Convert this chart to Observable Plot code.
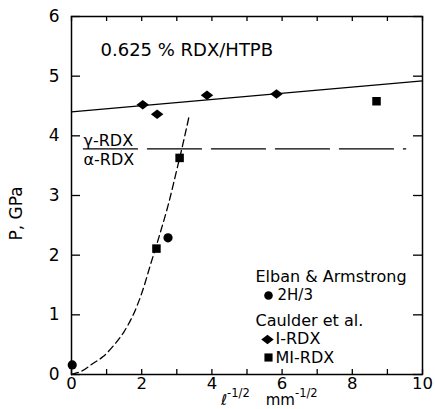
<!DOCTYPE html>
<html><head><meta charset="utf-8">
<script src="https://cdn.jsdelivr.net/npm/d3@7"></script>
<script src="https://cdn.jsdelivr.net/npm/@observablehq/plot@0.6"></script>
<style>
html,body{margin:0;padding:0;background:#fff;}
#chart svg{display:block;}
</style>
</head><body><div id="chart"></div>
<script>
// ---- data ----
const title = "0.625 % RDX/HTPB";
const iRdxX = [2.03, 2.44, 3.86, 5.84];
const iRdxP = [4.52, 4.36, 4.68, 4.70];
const miRdxX = [2.42, 3.08, 8.69];
const miRdxP = [2.11, 3.63, 4.58];
const elbanX = [0.02, 2.75];
const elbanP = [0.16, 2.29];
const fitX = [0, 10];
const fitP = [4.40, 4.92];
const curveX = [0, 0.3, 0.6, 0.9, 1.25, 1.5, 1.75, 2.0, 2.25, 2.5, 2.75, 3.0, 3.15, 3.34];
const curveP = [0, 0.06, 0.18, 0.30, 0.52, 0.72, 0.99, 1.36, 1.84, 2.32, 2.83, 3.43, 3.80, 4.30];
const transitionP = 3.78;
const transitionX = [0.34, 9.52];
const phaseLabels = ["γ-RDX", "α-RDX"];
const xTicks = [0,1,2,3,4,5,6,7,8,9,10];
const xTickLabels = [0,2,4,6,8,10];
const yTicks = [0,1,2,3,4,5,6];
const yLabel = "P, GPa";
const legendGroups = ["Elban & Armstrong", "Caulder et al."];
const seriesNames = ["2H/3", "I-RDX", "MI-RDX"];

const font = "DejaVu Sans";
const W = 435, H = 409, ML = 71, MR = 13, MT = 16, MB = 35;
const frameW = W - ML - MR, frameH = H - MT - MB;
const xTickLen = 5, yTickLen = 9;
const zip = (xs, ys) => xs.map((x, i) => ({x, y: ys[i]}));

const flatDiamond = {
  draw(context, size) {
    const r = Math.sqrt(size / Math.PI);
    const w = r * 1.25, h = r * 0.95;
    context.moveTo(0, -h); context.lineTo(w, 0); context.lineTo(0, h); context.lineTo(-w, 0); context.closePath();
  }
};
const tickStyle = {stroke: "black", strokeWidth: 1.3};

const plot = Plot.plot({
  width: W,
  height: H,
  marginLeft: ML,
  marginRight: MR,
  marginTop: MT,
  marginBottom: MB,
  style: {fontFamily: font, background: "white", color: "black"},
  x: {domain: [0, 10]},
  y: {domain: [0, 6]},
  marks: [
    Plot.frame({stroke: "black", strokeWidth: 1.5}),
    // inward ticks on all four sides
    Plot.ruleX(xTicks, {x: d => d, insetTop: frameH - xTickLen, ...tickStyle}),
    Plot.ruleX(xTicks, {x: d => d, insetBottom: frameH - xTickLen, ...tickStyle}),
    Plot.ruleY(yTicks, {y: d => d, insetRight: frameW - yTickLen, ...tickStyle}),
    Plot.ruleY(yTicks, {y: d => d, insetLeft: frameW - yTickLen, ...tickStyle}),
    // tick labels
    Plot.axisX({anchor: "bottom", ticks: xTickLabels, tickFormat: "d", tickSize: 0, tickPadding: 3, fontSize: 16.5, label: null}),
    Plot.axisY({anchor: "left", ticks: yTicks, tickFormat: "d", tickSize: 0, tickPadding: 12, fontSize: 17, label: null}),
    Plot.text([yLabel], {frameAnchor: "left", dx: -55, dy: 18, rotate: -90, fontSize: 17, textAnchor: "middle", lineAnchor: "middle"}),
    // fitted line
    Plot.line(zip(fitX, fitP), {x: "x", y: "y", stroke: "black", strokeWidth: 1.3}),
    // phase transition line
    Plot.line(transitionX.map(x => ({x, y: transitionP})), {x: "x", y: "y", stroke: "black", strokeWidth: 1.3, strokeDasharray: "54,10"}),
    // dashed curve
    Plot.line(zip(curveX, curveP), {x: "x", y: "y", curve: "catmull-rom", stroke: "black", strokeWidth: 1.3, strokeDasharray: "7,4"}),
    // data points
    Plot.dot(zip(elbanX, elbanP), {x: "x", y: "y", r: 4.6, fill: "black", symbol: "circle"}),
    Plot.dot(zip(iRdxX, iRdxP), {x: "x", y: "y", r: 5, fill: "black", symbol: flatDiamond}),
    Plot.dot(zip(miRdxX, miRdxP), {x: "x", y: "y", r: 4.8, fill: "black", symbol: "square"}),
    // phase labels
    Plot.text([phaseLabels[0]], {y: () => transitionP, frameAnchor: "left", dx: 12, dy: -3, lineAnchor: "bottom", textAnchor: "start", fontSize: 16}),
    Plot.text([phaseLabels[1]], {y: () => transitionP, frameAnchor: "left", dx: 12, dy: 5, lineAnchor: "top", textAnchor: "start", fontSize: 16}),
    // title
    Plot.text([title], {frameAnchor: "top-left", dx: 29, dy: 39, lineAnchor: "bottom", textAnchor: "start", fontSize: 18}),
    // legend
    Plot.text([legendGroups[0]], {frameAnchor: "top-left", dx: 184, dy: 265, lineAnchor: "bottom", textAnchor: "start", fontSize: 16}),
    Plot.dot([seriesNames[0]], {frameAnchor: "top-left", dx: 197, dy: 279, r: 4.3, fill: "black", symbol: "circle"}),
    Plot.text([seriesNames[0]], {frameAnchor: "top-left", dx: 206, dy: 283, lineAnchor: "bottom", textAnchor: "start", fontSize: 15}),
    Plot.text([legendGroups[1]], {frameAnchor: "top-left", dx: 184, dy: 309, lineAnchor: "bottom", textAnchor: "start", fontSize: 16}),
    Plot.dot([seriesNames[1]], {frameAnchor: "top-left", dx: 196, dy: 323, r: 5, fill: "black", symbol: flatDiamond}),
    Plot.text([seriesNames[1]], {frameAnchor: "top-left", dx: 204, dy: 327, lineAnchor: "bottom", textAnchor: "start", fontSize: 16}),
    Plot.dot([seriesNames[2]], {frameAnchor: "top-left", dx: 197, dy: 341, r: 4.6, fill: "black", symbol: "square"}),
    Plot.text([seriesNames[2]], {frameAnchor: "top-left", dx: 204, dy: 346, lineAnchor: "bottom", textAnchor: "start", fontSize: 16})
  ]
});

document.getElementById("chart").appendChild(plot);

// x-axis label with superscripts
const xs = plot.scale("x");
const lab = d3.select(plot).append("text")
  .attr("x", xs.apply(4.27)).attr("y", 405)
  .attr("text-anchor", "start")
  .attr("font-family", font).attr("font-size", 15).attr("fill", "black");
lab.append("tspan").attr("font-style", "italic").text("ℓ");
lab.append("tspan").attr("dy", -8).attr("font-size", 11.5).text("-1/2");
lab.append("tspan").attr("dy", 8).attr("dx", 16).text("mm");
lab.append("tspan").attr("dy", -8).attr("font-size", 11.5).text("-1/2");
</script>
</body></html>
